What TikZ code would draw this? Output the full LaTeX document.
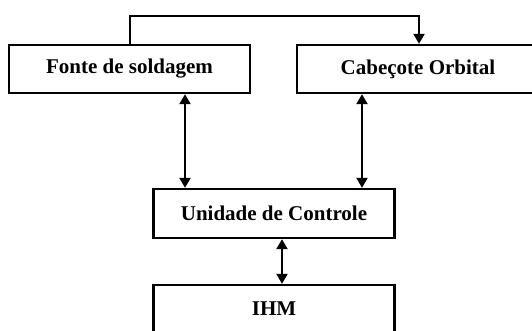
\documentclass[tikz,border=0pt]{standalone}
\usepackage{fontspec}
\setmainfont{Liberation Serif}
\usetikzlibrary{arrows.meta}
\begin{document}
\begin{tikzpicture}[x=1pt,y=-1pt,
  blk/.style={draw=black, line width=2.4pt, fill=white, inner sep=0pt,
    minimum width=241pt, minimum height=48pt,
    font=\fontsize{21}{25}\selectfont\bfseries},
  conn/.style={line width=2.2pt, -{Triangle[length=10pt,width=11pt]}},
  bidir/.style={line width=2.2pt, {Triangle[length=10pt,width=11pt]}-{Triangle[length=10pt,width=11pt]}}
]
\useasboundingbox (0,0) rectangle (532,330);
\clip (0,0) rectangle (532,330);
\node[blk] (fonte) at (129.5,69) {Fonte de soldagem};
\node[blk, minimum width=242pt] (cab) at (418,69) {Cabeçote Orbital};
\node[blk, minimum height=49pt] (uc) at (274,213.5) {Unidade de Controle};
\node[blk] (ihm) at (274,309) {IHM};
\draw[conn] ([xshift=0.5pt]fonte.north) -- ++(0,-28) -| ([xshift=1pt]cab.north);
\draw[bidir] ([xshift=-89pt]uc.north) -- ([xshift=-89pt]uc.north |- fonte.south);
\draw[bidir] ([xshift=88pt]uc.north) -- ([xshift=88pt]uc.north |- cab.south);
\draw[bidir] ([xshift=8pt]uc.south) -- ([xshift=8pt]uc.south |- ihm.north);
\end{tikzpicture}
\end{document}
